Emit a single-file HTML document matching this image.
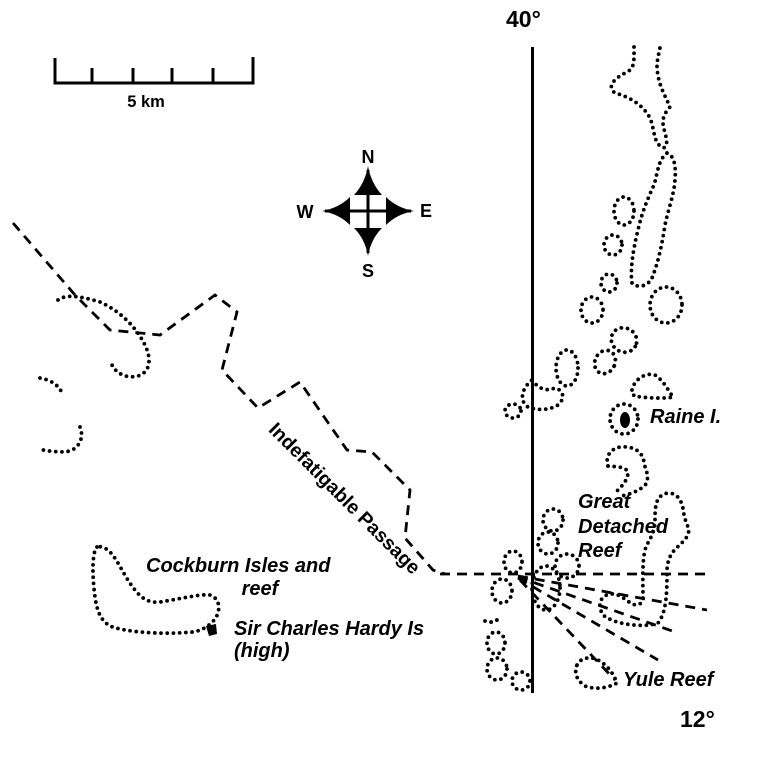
<!DOCTYPE html>
<html>
<head>
<meta charset="utf-8">
<style>
html,body{margin:0;padding:0;background:#fff;}
svg{display:block;}
text{font-family:"Liberation Sans",Arial,sans-serif;font-weight:bold;fill:#000;}
.dot{fill:none;stroke:#000;stroke-width:3.8;stroke-linecap:round;stroke-dasharray:0 6.2;}
.dash{fill:none;stroke:#000;stroke-width:2.8;stroke-dasharray:10 7;}
.it{font-style:italic;font-size:20px;}
</style>
</head>
<body>
<svg width="770" height="758" viewBox="0 0 770 758" xmlns="http://www.w3.org/2000/svg">
<rect width="770" height="758" fill="#fff"/>

<!-- scale bar -->
<path d="M55,58 V83 H253 V57 M92,83 V68 M133,83 V68 M172,83 V68 M213,83 V68" fill="none" stroke="#000" stroke-width="3"/>
<text x="146" y="107" font-size="16.5" text-anchor="middle">5 km</text>

<!-- compass -->
<line x1="368" y1="170" x2="368" y2="253" stroke="#000" stroke-width="3"/>
<line x1="325" y1="211" x2="411" y2="211" stroke="#000" stroke-width="3"/>
<path d="M368,166 Q371,183 382,195 L354,195 Q365,183 368,166 Z" fill="#000"/>
<path d="M368,256 Q371,239 382,228 L354,228 Q365,239 368,256 Z" fill="#000"/>
<path d="M322,211 Q339,214 350,225 L350,197 Q339,208 322,211 Z" fill="#000"/>
<path d="M414,211 Q397,214 386,225 L386,197 Q397,208 414,211 Z" fill="#000"/>
<text x="368" y="163" font-size="18" text-anchor="middle">N</text>
<text x="305" y="218" font-size="18" text-anchor="middle">W</text>
<text x="426" y="217" font-size="18" text-anchor="middle">E</text>
<text x="368" y="277" font-size="18" text-anchor="middle">S</text>

<!-- meridian -->
<text x="506" y="27" font-size="23">40°</text>
<line x1="532.5" y1="47" x2="532.5" y2="693" stroke="#000" stroke-width="3"/>
<text x="680" y="727" font-size="23">12°</text>

<!-- Indefatigable passage dashed lines -->
<path class="dash" d="M13,223 L75,295 L110,330 L160,335 L215,295 L237,312 L222,370 L258,408 L300,382 L347,450 L372,452 L410,490 L405,538 L433,570 L445,574"/>
<line class="dash" x1="440" y1="574" x2="708" y2="574"/>
<line class="dash" x1="518" y1="576" x2="707" y2="610"/>
<line class="dash" x1="518" y1="577" x2="678" y2="633"/>
<line class="dash" x1="518" y1="578" x2="658" y2="660"/>
<line class="dash" x1="520" y1="580" x2="615" y2="680"/>

<text x="340" y="503" font-size="19.5" text-anchor="middle" transform="rotate(45 340 503)">Indefatigable Passage</text>

<!-- left reefs -->
<path class="dot" d="M58,300 C66,294 80,296 100,302 C118,310 135,325 145,345 C152,360 150,372 138,376 C126,379 116,373 112,365"/>
<path class="dot" d="M40,378 C50,380 58,384 62,393"/>
<path class="dot" d="M80,427 C84,437 80,447 70,451 C60,453 50,451 43,450"/>

<!-- Cockburn -->
<path class="dot" d="M97,547 C92,552 92,575 95,597 C97,610 100,620 110,626 C125,632 160,635 193,632 C205,630 215,622 218,613 C220,605 218,598 210,595 C200,594 185,598 160,602 C150,603 143,600 135,590 C125,578 118,560 110,552 C105,547 100,546 97,547"/>
<path d="M206,626 L216,624 L217,634 L209,636 Z" fill="#000"/>
<text class="it" x="146" y="572">Cockburn Isles and</text>
<text class="it" x="260" y="595" text-anchor="middle">reef</text>
<text class="it" x="234" y="635">Sir Charles Hardy Is</text>
<text class="it" x="234" y="657">(high)</text>

<!-- right reef column top -->
<path class="dot" d="M634,47 C634,60 635,68 627,72 C615,78 606,86 615,93 C630,97 643,105 650,118 C655,130 653,143 663,148 C668,147 667,140 665,133 C663,125 660,118 670,107 C665,95 658,85 657,67 C657,58 660,50 660,47"/>
<path class="dot" d="M667,153 C675,156 676,168 675,180 C674,195 668,210 665,225 C662,245 658,263 652,278 C648,286 638,289 632,283 C630,270 633,250 638,230 C642,212 648,198 654,185 C658,172 658,160 667,153 Z"/>
<ellipse class="dot" cx="624" cy="211" rx="10" ry="14"/>
<ellipse class="dot" cx="613" cy="245" rx="9" ry="10"/>
<ellipse class="dot" cx="609" cy="283" rx="8" ry="9"/>
<ellipse class="dot" cx="592" cy="310" rx="11" ry="13"/>
<ellipse class="dot" cx="666" cy="305" rx="16" ry="18"/>
<ellipse class="dot" cx="624" cy="340" rx="13" ry="12" transform="rotate(30 624 340)"/>
<ellipse class="dot" cx="605" cy="362" rx="10" ry="12" transform="rotate(25 605 362)"/>
<ellipse class="dot" cx="567" cy="368" rx="11" ry="18"/>
<path class="dot" d="M532,380 C538,388 545,392 555,388 C563,390 566,398 558,405 C550,410 538,411 528,407 C520,402 520,390 532,380 Z"/>
<ellipse class="dot" cx="513" cy="411" rx="8" ry="7"/>
<path class="dot" d="M632,390 C634,380 645,372 655,375 C663,380 668,390 673,397 C665,399 645,398 634,396 Z"/>
<ellipse class="dot" cx="624" cy="419" rx="14" ry="15"/>
<ellipse cx="625" cy="420" rx="5" ry="8" fill="#000"/>
<text class="it" x="650" y="423">Raine I.</text>

<!-- hook reef -->
<path class="dot" d="M608,466 C605,457 610,449 620,447 C632,446 642,450 644,462 C645,470 650,475 646,484 C640,491 630,494 622,496"/>
<path class="dot" d="M608,466 C615,467 625,466 628,472 C628,480 622,486 616,492"/>

<!-- Great Detached Reef -->
<path class="dot" d="M643,598 C643,585 642,562 645,550 C648,540 655,535 655,520 C655,505 656,495 668,493 C680,493 683,505 684,515 C686,525 692,530 686,538 C680,547 668,550 667,570 C667,590 667,612 658,623 C645,628 615,625 603,615 C597,605 600,596 610,594 C622,593 628,604 636,605 C643,604 643,600 643,598"/>
<text class="it" x="578" y="508">Great</text>
<text class="it" x="578" y="533">Detached</text>
<text class="it" x="578" y="557">Reef</text>

<!-- reefs near crossing -->
<ellipse class="dot" cx="553" cy="520" rx="10" ry="11"/>
<ellipse class="dot" cx="548" cy="543" rx="10" ry="11"/>
<ellipse class="dot" cx="567" cy="566" rx="12" ry="12"/>
<ellipse class="dot" cx="513" cy="562" rx="9" ry="11"/>
<ellipse class="dot" cx="546" cy="588" rx="14" ry="22"/>
<ellipse class="dot" cx="502" cy="591" rx="10" ry="12"/>
<path class="dot" d="M485,621 C490,623 494,622 497,620"/>
<ellipse class="dot" cx="496" cy="643" rx="9" ry="11"/>
<ellipse class="dot" cx="497" cy="669" rx="10" ry="11"/>
<ellipse class="dot" cx="521" cy="681" rx="9" ry="9"/>

<!-- Yule reef -->
<path class="dot" d="M577,665 C580,658 590,656 598,660 C605,664 612,670 617,683 C608,688 595,690 585,686 C576,680 574,672 577,665 Z"/>
<text class="it" x="623" y="686">Yule Reef</text>
</svg>
</body>
</html>
